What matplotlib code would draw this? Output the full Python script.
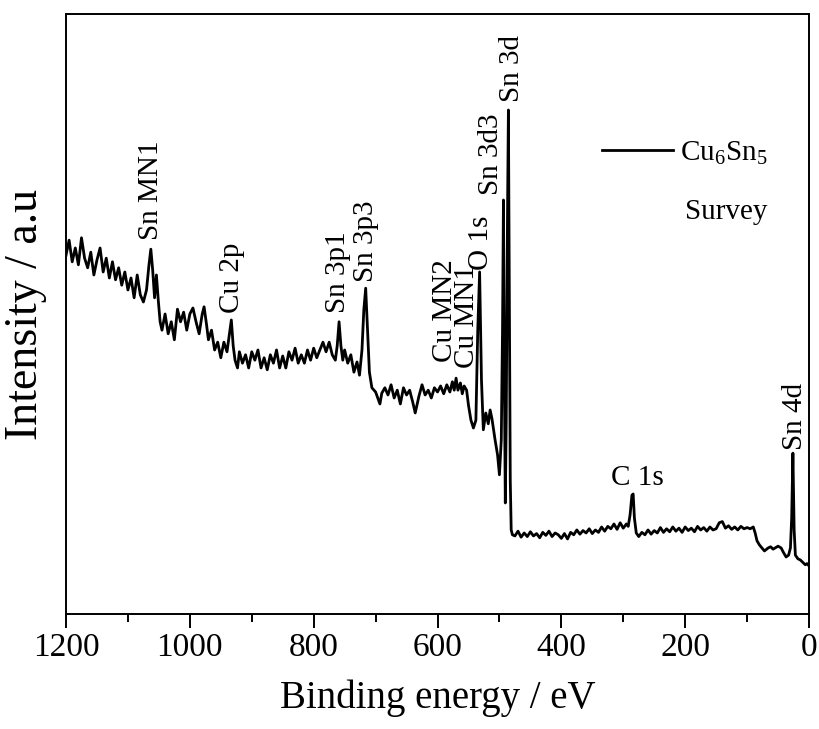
import matplotlib
matplotlib.use("Agg")
import matplotlib.pyplot as plt
from matplotlib.ticker import MultipleLocator

plt.rcParams['font.family'] = ['Liberation Serif', 'DejaVu Serif']
plt.rcParams['mathtext.fontset'] = 'custom'
plt.rcParams['mathtext.rm'] = 'Liberation Serif'
plt.rcParams['mathtext.it'] = 'Liberation Serif:italic'

# Binding energy (eV) and intensity (a.u.)
binding_energy = [
    1200, 1195, 1190, 1185, 1180, 1175, 1170, 1165, 1160, 1155, 1150, 1145, 1140, 1135, 1130,
    1125, 1120, 1115, 1110, 1105, 1100, 1095, 1090, 1085, 1080, 1075, 1070, 1066, 1063, 1060,
    1057, 1054, 1051, 1048, 1045, 1040, 1035, 1030, 1025, 1020, 1015, 1010, 1005, 1000, 995,
    990, 985, 980, 977, 973, 970, 965, 960, 955, 950, 945, 940, 936, 933, 930,
    927, 923, 920, 915, 910, 905, 900, 895, 890, 885, 880, 875, 870, 865, 860,
    855, 850, 845, 840, 835, 830, 825, 820, 815, 810, 805, 800, 795, 790, 785,
    780, 775, 770, 765, 762, 759, 756, 753, 750, 745, 740, 735, 730, 726, 722,
    719, 716, 713, 710, 706, 700, 693, 690, 685, 680, 675, 670, 665, 660, 655,
    650, 645, 640, 636, 630, 625, 620, 615, 610, 605, 600, 595, 590, 585, 580,
    576, 573, 570, 567, 563, 560, 557, 553, 550, 546, 542, 538, 535, 532, 529,
    526, 522, 518, 515, 512, 507, 503, 500, 497, 495, 493.5, 492, 490.5, 489, 487,
    485.5, 484, 482.5, 481, 479, 475, 470, 465, 460, 455, 450, 445, 440, 435, 430,
    425, 420, 415, 410, 405, 400, 395, 390, 385, 380, 375, 370, 365, 360, 355,
    350, 345, 340, 335, 330, 325, 320, 315, 310, 305, 300, 295, 292, 289, 286,
    284, 282, 279, 275, 270, 265, 260, 255, 250, 245, 240, 235, 230, 225, 220,
    215, 210, 205, 200, 195, 190, 185, 180, 175, 170, 165, 160, 155, 150, 145,
    140, 135, 130, 125, 120, 115, 110, 105, 100, 95, 90, 87, 84, 80, 76,
    72, 66, 62, 58, 50, 45, 41, 37, 33, 30, 28, 26, 24, 22, 18,
    14, 10, 6, 3, 0,
]
intensity = [
    59.8, 62.3, 58.7, 61.0, 58.2, 62.7, 59.3, 57.7, 60.3, 56.5, 59.0, 61.0, 57.0, 59.3, 56.0,
    58.7, 55.7, 57.7, 54.8, 57.0, 54.0, 56.0, 52.7, 56.5, 53.2, 52.0, 54.0, 58.2, 60.8, 57.3,
    52.7, 56.5, 52.3, 48.7, 47.3, 50.0, 46.7, 48.7, 45.7, 50.8, 48.7, 50.3, 47.3, 50.0, 51.0,
    48.7, 46.7, 50.0, 51.2, 48.2, 45.7, 47.3, 44.0, 45.3, 42.7, 45.3, 43.7, 46.7, 49.0, 44.7,
    42.3, 41.0, 43.7, 41.8, 43.2, 41.0, 43.7, 42.3, 44.0, 41.0, 42.7, 40.7, 43.2, 41.8, 44.0,
    41.0, 43.0, 41.0, 43.7, 42.3, 44.3, 41.8, 43.2, 41.8, 44.0, 42.3, 44.3, 42.7, 44.0, 45.3,
    43.7, 45.3, 43.2, 42.3, 44.7, 48.7, 44.7, 42.3, 44.0, 41.8, 43.2, 40.3, 42.0, 39.8, 44.0,
    50.7, 54.3, 47.3, 40.3, 37.7, 37.0, 35.0, 36.8, 37.7, 36.5, 38.2, 36.0, 37.3, 35.0, 37.7,
    36.5, 37.3, 35.3, 33.5, 36.3, 38.2, 36.5, 37.3, 36.0, 37.7, 37.0, 38.0, 36.7, 38.2, 37.0,
    38.7, 37.3, 39.3, 37.3, 38.5, 36.7, 38.0, 37.3, 34.8, 32.3, 31.0, 32.3, 47.3, 57.0, 39.0,
    30.7, 33.5, 31.7, 34.0, 32.5, 29.0, 26.5, 23.2, 29.0, 47.3, 69.0, 39.0, 18.5, 32.3, 65.7,
    84.0, 52.3, 22.3, 14.0, 13.2, 13.0, 13.8, 12.8, 13.5, 12.9, 13.7, 13.0, 13.4, 12.7, 13.6,
    13.1, 13.8, 12.9, 13.5, 13.2, 12.6, 13.4, 12.5, 13.6, 13.2, 14.0, 13.3, 13.9, 13.5, 14.2,
    13.4, 14.0, 13.6, 14.5, 13.8, 14.6, 14.2, 15.0, 14.1, 15.2, 14.3, 15.0, 14.6, 16.5, 19.8,
    20.0, 16.0, 13.5, 12.9, 13.6, 13.2, 14.0, 13.3, 13.9, 13.5, 14.4, 13.6, 14.2, 13.7, 14.5,
    13.8, 14.3, 13.6, 14.5, 13.9, 14.3, 13.7, 14.6, 14.0, 14.4, 13.8, 14.5, 14.0, 14.2, 15.2,
    15.4, 14.3, 14.7, 14.1, 14.5, 14.0, 14.6, 14.2, 14.4, 14.2, 14.5, 13.5, 12.2, 11.5, 11.0,
    10.5, 11.0, 11.2, 10.8, 11.3, 11.0, 10.2, 9.5, 9.8, 11.0, 16.0, 26.8, 14.0, 9.8, 9.2,
    9.0, 8.6, 8.2, 8.4, 8.0,
]

# Peak annotations: text, position (eV), bottom of label (a.u.), rotation
peak_names = ["Sn MN1", "Cu 2p", "Sn 3p1", "Sn 3p3", "Cu MN2", "Cu MN1", "O 1s",
              "Sn 3d3", "Sn 3d", "C 1s", "Sn 4d"]
peak_label_be = [1063, 932, 761, 715, 588, 553, 530, 514, 480, 278, 23]
peak_label_y = [62.3, 50.2, 50.2, 55.3, 42.0, 41.0, 57.3, 69.8, 85.3, 20.5, 27.3]
peak_label_rot = [90, 90, 90, 90, 90, 90, 90, 90, 90, 0, 90]

series_label = "Cu$_6$Sn$_5$"
note_text = "Survey"
x_ticks = [1200, 1000, 800, 600, 400, 200, 0]

fig = plt.figure(figsize=(8.19, 7.29), dpi=100)
ax = fig.add_axes([0.0806, 0.1578, 0.9072, 0.8230])

ax.plot(binding_energy, intensity, color='black', lw=2.0, label=series_label)

for name, bx, by, rot in zip(peak_names, peak_label_be, peak_label_y, peak_label_rot):
    ax.text(bx, by, name, rotation=rot, ha='center', va='bottom', fontsize=21, color='black')

ax.set_xlim(1200, 0)
ax.set_ylim(0, 100)
ax.set_xticks(x_ticks)
ax.xaxis.set_minor_locator(MultipleLocator(100))
ax.tick_params(axis='x', which='major', direction='out', length=10, width=1.4,
               labelsize=24, pad=3)
ax.tick_params(axis='x', which='minor', direction='out', length=6, width=1.4)
ax.tick_params(axis='y', left=False, labelleft=False, which='both')
for sp in ax.spines.values():
    sp.set_linewidth(1.4)

ax.set_xlabel("Binding energy / eV", fontsize=28, labelpad=12)
ax.set_ylabel("Intensity / a.u", fontsize=33, labelpad=14)

leg = ax.legend(loc='center left', bbox_to_anchor=(0.721, 0.768), frameon=False,
                fontsize=21, handlelength=2.45, handletextpad=0.25,
                borderpad=0, borderaxespad=0)
ax.text(0.888, 0.67, note_text, transform=ax.transAxes, ha='center', va='center',
        fontsize=21)

fig.savefig("out.png", dpi=100)
